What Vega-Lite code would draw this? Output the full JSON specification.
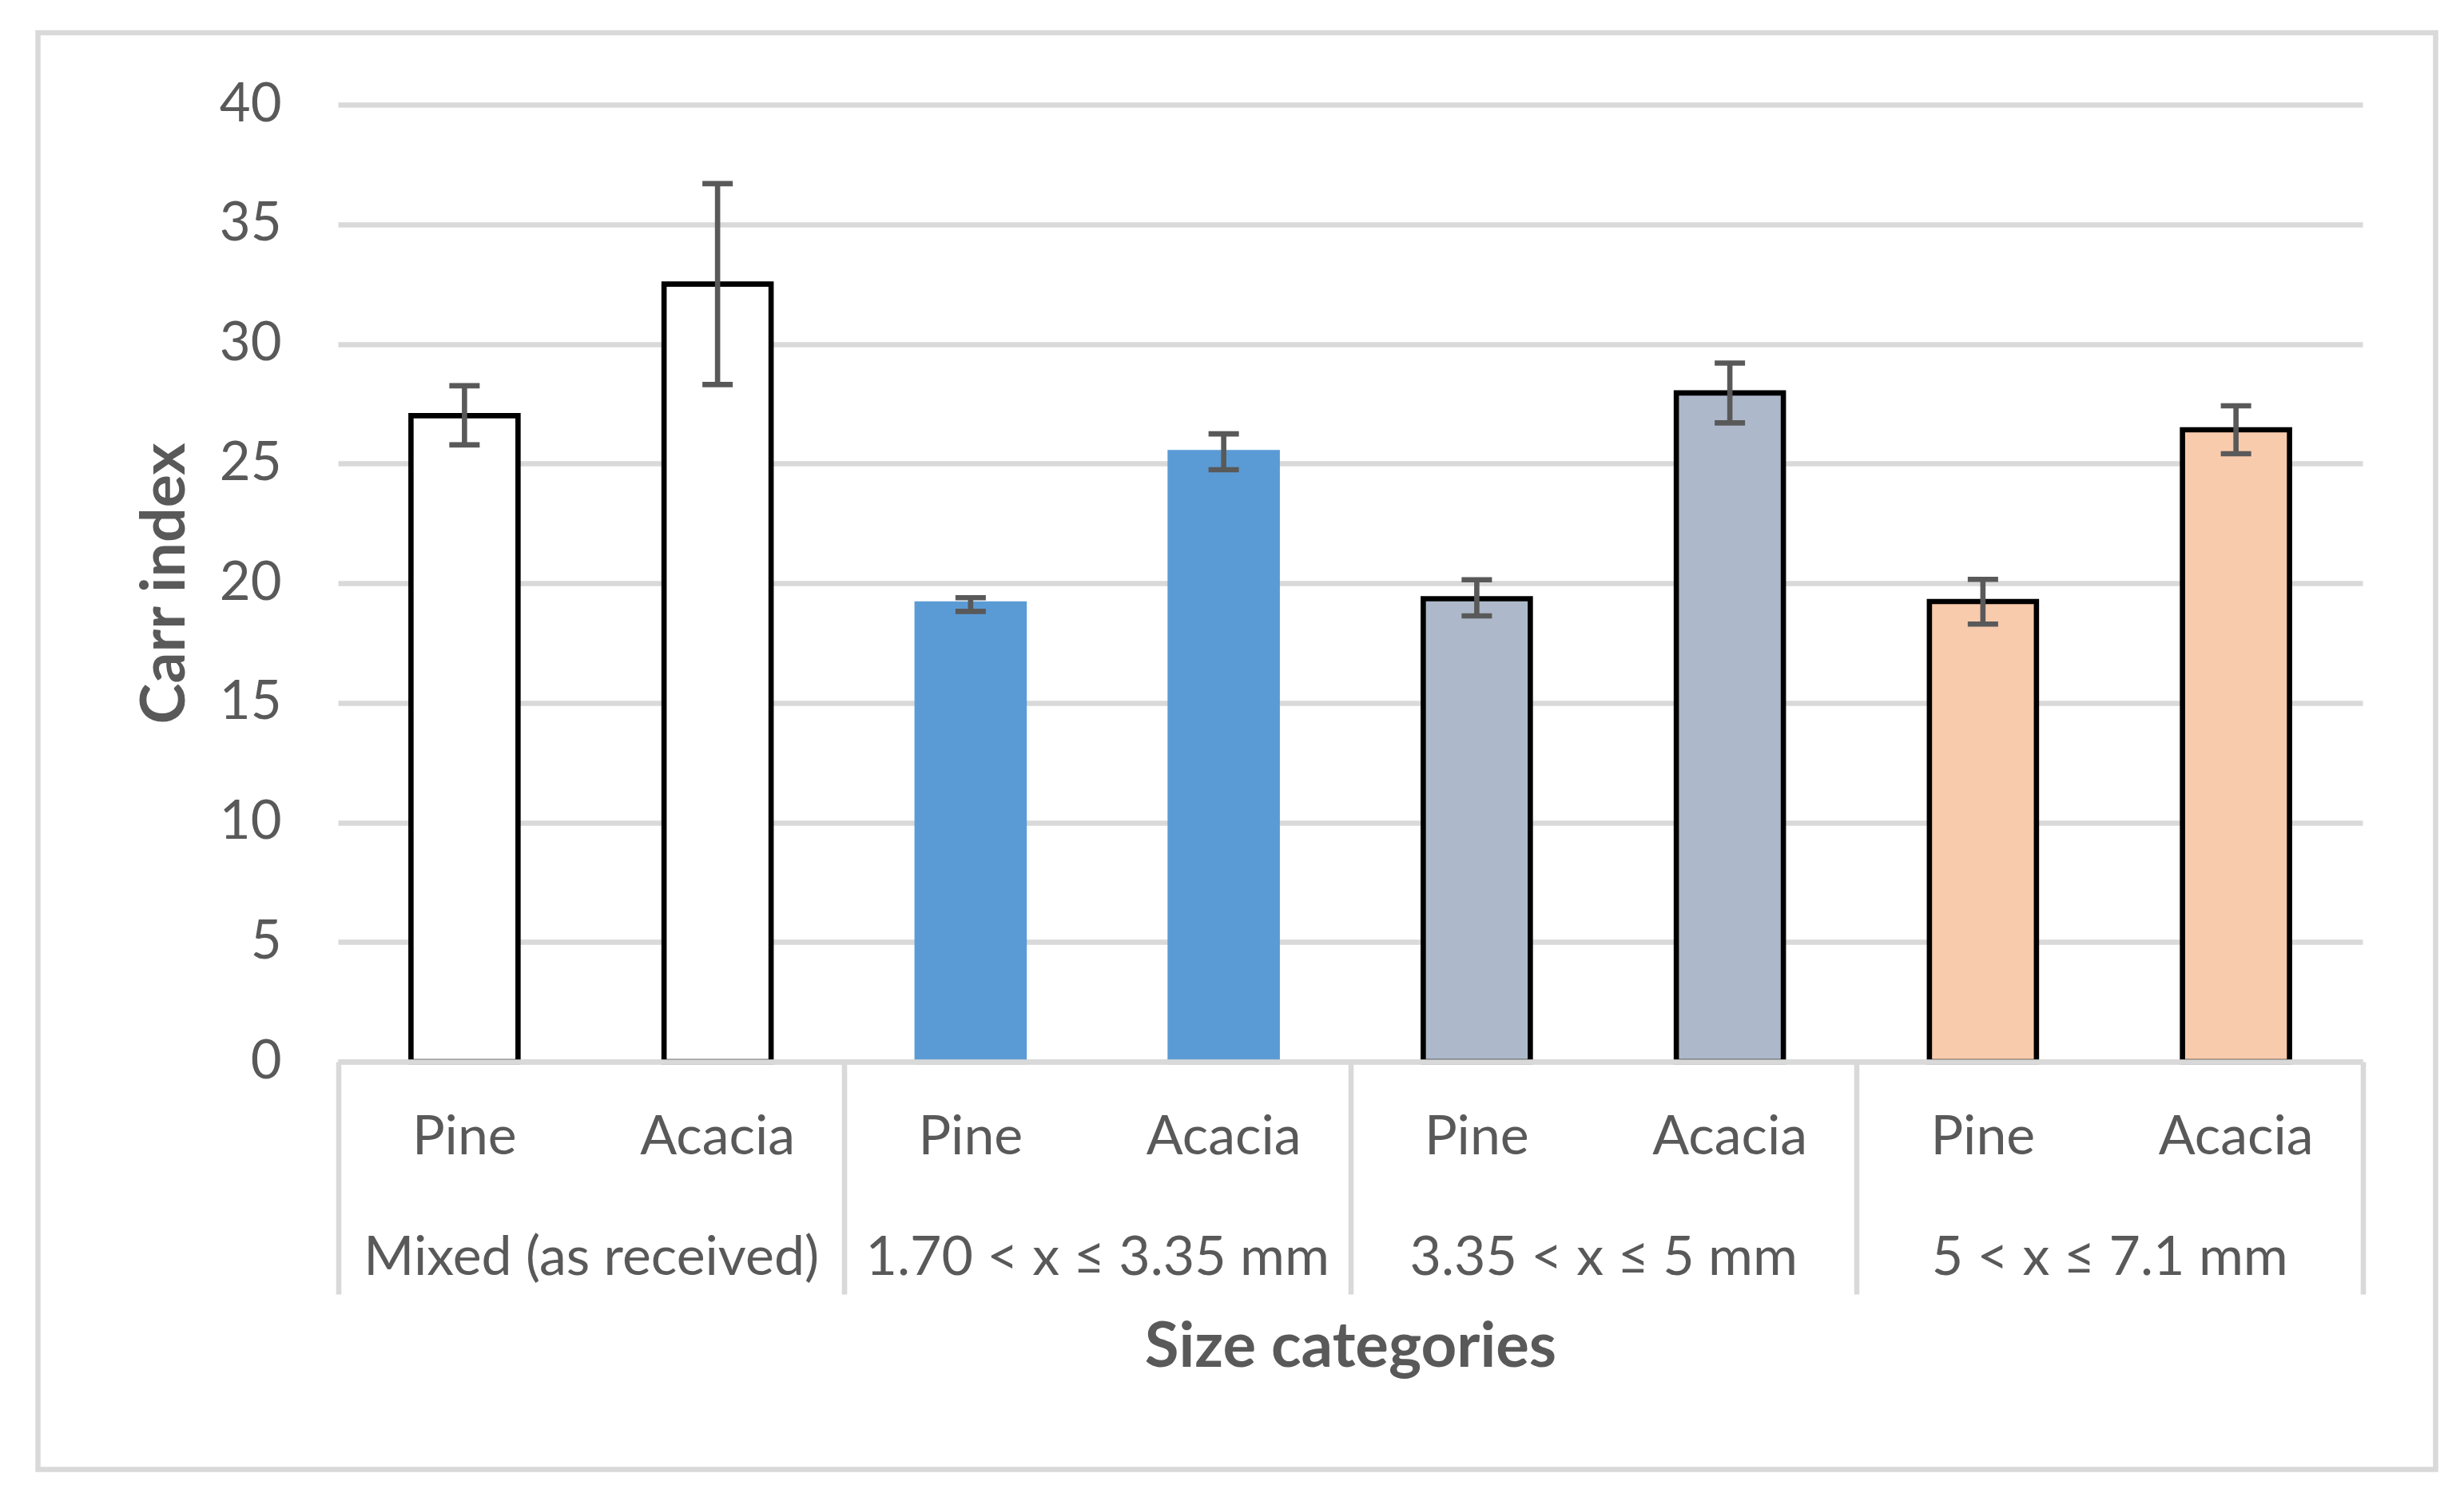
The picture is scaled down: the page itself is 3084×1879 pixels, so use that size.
{
  "$schema": "https://vega.github.io/schema/vega-lite/v6.json",
  "autosize": {"type": "none"},
  "padding": {"left": 47.5, "top": 41, "right": 35, "bottom": 40},
  "width": 3001,
  "height": 1798.5,
  "background": "white",
  "config": {"view": {"stroke": "#D9D9D9", "strokeWidth": 6.5, "fill": "white"}, "font": "Lato"},
  "data": {
    "values": [
      {"group": "Mixed (as received)", "species": "Pine", "value": 27.0, "lo": 25.78, "hi": 28.25},
      {"group": "Mixed (as received)", "species": "Acacia", "value": 32.5, "lo": 28.3, "hi": 36.7},
      {"group": "1.70 < x ≤ 3.35 mm", "species": "Pine", "value": 19.13, "lo": 18.82, "hi": 19.39},
      {"group": "1.70 < x ≤ 3.35 mm", "species": "Acacia", "value": 25.46, "lo": 24.74, "hi": 26.24},
      {"group": "3.35 < x ≤ 5 mm", "species": "Pine", "value": 19.35, "lo": 18.63, "hi": 20.14},
      {"group": "3.35 < x ≤ 5 mm", "species": "Acacia", "value": 27.95, "lo": 26.7, "hi": 29.2},
      {"group": "5 < x ≤ 7.1 mm", "species": "Pine", "value": 19.23, "lo": 18.29, "hi": 20.16},
      {"group": "5 < x ≤ 7.1 mm", "species": "Acacia", "value": 26.41, "lo": 25.41, "hi": 27.41}
    ]
  },
  "encoding": {
    "x": {
      "field": "group",
      "type": "nominal",
      "sort": ["Mixed (as received)", "1.70 < x ≤ 3.35 mm", "3.35 < x ≤ 5 mm", "5 < x ≤ 7.1 mm"],
      "scale": {"paddingInner": 0, "paddingOuter": 0, "range": [375.5, 2909.5]},
      "title": "Size categories",
      "axis": {
        "offset": -510.5,
        "labelFont": "Lato",
        "labelFontSize": 68,
        "labelColor": "#595959",
        "labelPadding": -79,
        "labelLimit": 0,
        "labelOverlap": false,
        "labelAngle": 0,
        "tickBand": "extent",
        "tickSize": 291,
        "tickColor": "#D9D9D9",
        "tickWidth": 6.6,
        "domainColor": "#D9D9D9",
        "domainWidth": 6.6,
        "grid": false,
        "titleFont": "Lato",
        "titleFontSize": 78,
        "titleFontWeight": "bold",
        "titleColor": "#595959",
        "titlePadding": 119,
        "zindex": 1
      }
    },
    "xOffset": {
      "field": "species",
      "type": "nominal",
      "sort": ["Pine", "Acacia"],
      "scale": {"paddingInner": 0.577, "paddingOuter": 0.2885}
    }
  },
  "layer": [
    {
      "mark": {"type": "bar", "strokeWidth": 6.6},
      "encoding": {
        "y": {
          "field": "value",
          "type": "quantitative",
          "scale": {"domain": [0, 40], "nice": false, "range": [1288, 90]},
          "title": "Carr index",
          "axis": {
            "offset": -375.5,
            "values": [0, 5, 10, 15, 20, 25, 30, 35, 40],
            "labelFont": "Lato",
            "labelFontSize": 67,
            "labelColor": "#595959",
            "labelPadding": 71,
            "ticks": false,
            "domain": false,
            "grid": true,
            "gridColor": "#D9D9D9",
            "gridWidth": 6.6,
            "titleFont": "Lato",
            "titleFontSize": 77,
            "titleFontWeight": "bold",
            "titleColor": "#595959",
            "titlePadding": 28
          }
        },
        "fill": {
          "field": "group",
          "type": "nominal",
          "scale": {
            "domain": ["Mixed (as received)", "1.70 < x ≤ 3.35 mm", "3.35 < x ≤ 5 mm", "5 < x ≤ 7.1 mm"],
            "range": ["#FFFFFF", "#5B9BD5", "#ADB9CA", "#F8CBAD"]
          },
          "legend": null
        },
        "stroke": {
          "field": "group",
          "type": "nominal",
          "scale": {
            "domain": ["Mixed (as received)", "1.70 < x ≤ 3.35 mm", "3.35 < x ≤ 5 mm", "5 < x ≤ 7.1 mm"],
            "range": ["#000000", "#5B9BD5", "#000000", "#000000"]
          },
          "legend": null
        }
      }
    },
    {
      "mark": {"type": "rule", "color": "#595959", "strokeWidth": 6.6},
      "encoding": {
        "y": {"field": "lo", "type": "quantitative", "title": "Carr index"},
        "y2": {"field": "hi"}
      }
    },
    {
      "mark": {"type": "tick", "orient": "horizontal", "color": "#595959", "size": 38, "thickness": 6.6, "opacity": 1},
      "encoding": {
        "y": {"field": "lo", "type": "quantitative", "title": "Carr index"}
      }
    },
    {
      "mark": {"type": "tick", "orient": "horizontal", "color": "#595959", "size": 38, "thickness": 6.6, "opacity": 1},
      "encoding": {
        "y": {"field": "hi", "type": "quantitative", "title": "Carr index"}
      }
    },
    {
      "mark": {"type": "text", "font": "Lato", "fontSize": 68, "color": "#595959", "baseline": "middle", "align": "center"},
      "encoding": {
        "y": {"datum": -3.22},
        "text": {"field": "species", "type": "nominal"}
      }
    }
  ]
}
